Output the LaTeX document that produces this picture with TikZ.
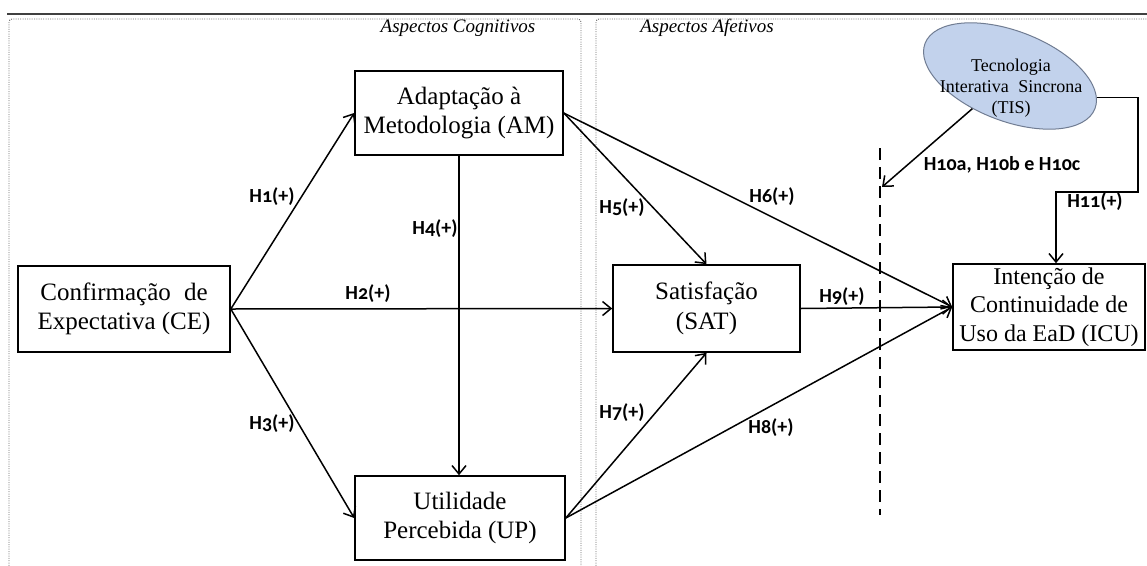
\documentclass[tikz,border=0pt]{standalone}
\usepackage{fontspec}
\setmainfont{Liberation Serif}
\newfontfamily\labfont{Carlito}[Numbers=OldStyle]
\usetikzlibrary{arrows.meta,shapes.geometric}
\definecolor{tisfill}{RGB}{194,210,236}
\definecolor{tisdraw}{RGB}{112,124,146}
\definecolor{panel}{RGB}{110,110,110}
\begin{document}
\begin{tikzpicture}[x=1pt,y=-1pt,
  box/.style={draw,line width=1.6pt,align=center,inner sep=0pt,
    font=\fontsize{25}{29.5}\selectfont},
  arr/.style={line width=1.5pt,-{Straight Barb[length=8.5pt,width=14pt]}},
  lab/.style={font=\labfont\bfseries\fontsize{20}{22}\selectfont,inner sep=0pt},
  asp/.style={font=\itshape\fontsize{19}{22}\selectfont,inner sep=0pt},
  paneldot/.style={draw=panel,line width=0.9pt,dash pattern=on 1pt off 1.3pt,rounded corners=3pt}
]
\useasboundingbox (0,0) rectangle (1147,565);
% frame
\draw[line width=1.4pt,draw=black!75] (7,14) -- (1147,14);
\draw[paneldot] (9,575) -- (9,19) -- (581,19) -- (581,575);
\draw[paneldot] (596,575) -- (596,19) -- (1160,19);
\node[asp] (cog) at (458,28) {Aspectos Cognitivos};
\node[asp] (afe) at (707,28) {Aspectos Afetivos};

% boxes
\node[box,minimum width=212pt,minimum height=86pt] (CE) at (124,309) {Confirmação\; de\\Expectativa (CE)};
\node[box,minimum width=208pt,minimum height=84pt] (AM) at (459,113) {Adaptação à\\Metodologia (AM)};
\node[box,minimum width=187pt,minimum height=87pt] (SAT) at (706.5,308.5) {Satisfação\\(SAT)};
\node[box,minimum width=210pt,minimum height=84pt] (UP) at (460,518) {Utilidade\\Percebida (UP)};
\node[box,minimum width=192pt,minimum height=86pt,font=\fontsize{24}{28.5}\selectfont] (ICU) at (1049,307) {Intenção de\\Continuidade de\\Uso da EaD (ICU)};

% TIS ellipse
\node[ellipse,draw=tisdraw,fill=tisfill,line width=1pt,minimum width=182pt,minimum height=90pt,inner sep=0pt,rotate=-21] (TIS) at (1010,76) {};
\node[align=center,inner sep=0pt,font=\fontsize{18}{20}\selectfont] (TIStxt) at (1011,88) {Tecnologia\\[1pt]Interativa\; Sincrona\\[1pt](TIS)};

% dashed separator
\coordinate (d1) at (880,148);
\coordinate (d2) at (880,515);
\draw[line width=2pt,dash pattern=on 12pt off 7pt] (d1) -- (d2);

% arrows
\draw[arr] (CE.east) -- (AM.west);
\draw[arr] (CE.east) -- (SAT.west);
\draw[arr] (CE.east) -- (UP.west);
\draw[arr] (AM.south) -- (AM.south |- UP.north);
\draw[arr] (AM.east) -- (SAT.north);
\draw[arr] (AM.east) -- (ICU.west);
\draw[arr] (UP.east) -- (SAT.south);
\draw[arr] (UP.east) -- (ICU.west);
\draw[arr] (SAT.east) -- (ICU.west);

\coordinate (h10end) at (882,187);
\draw[arr] (TIS) -- (h10end);
\coordinate (k1) at (1138,192);
\coordinate (k2) at (1056,192);
\draw[arr] (TIS.7) -| (k1) -- (k2) -- (k2 |- ICU.north);

% labels
\node[lab] (l1) at (272,197) {H1(+)};
\node[lab] (l2) at (368,294) {H2(+)};
\node[lab] (l3) at (272,424) {H3(+)};
\node[lab] (l4) at (435,229) {H4(+)};
\node[lab] (l5) at (622,208) {H5(+)};
\node[lab] (l6) at (772,197) {H6(+)};
\node[lab] (l7) at (622,413) {H7(+)};
\node[lab] (l8) at (771,428) {H8(+)};
\node[lab] (l9) at (842,297) {H9(+)};
\node[lab] (l10) at (1002,165) {H10a, H10b e H10c};
\node[lab] (l11) at (1095,202) {H11(+)};
\end{tikzpicture}
\end{document}
